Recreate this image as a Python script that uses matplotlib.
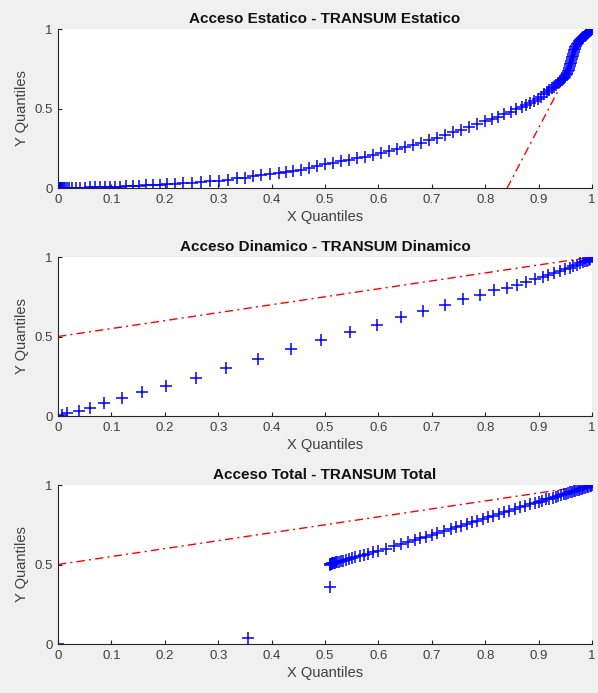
import matplotlib
matplotlib.use('Agg')
import matplotlib.pyplot as plt

plt.rcParams['font.family'] = ['Liberation Sans', 'DejaVu Sans']

# Q-Q datos
titles = ['Acceso Estatico - TRANSUM Estatico',
          'Acceso Dinamico - TRANSUM Dinamico',
          'Acceso Total - TRANSUM Total']

x_est = [0, 0.001, 0.002, 0.003, 0.004, 0.005, 0.006, 0.008, 0.010, 0.012, 0.014, 0.017, 0.020,
         0.026, 0.033, 0.041, 0.050, 0.060, 0.069, 0.079, 0.088, 0.097, 0.106, 0.116, 0.128,
         0.140, 0.152, 0.165, 0.178, 0.191, 0.205, 0.219, 0.234, 0.250, 0.267, 0.285, 0.302,
         0.319, 0.335, 0.350, 0.366, 0.381, 0.397, 0.413, 0.427, 0.440, 0.455, 0.470, 0.485,
         0.500, 0.515, 0.530, 0.545, 0.560, 0.575, 0.590, 0.605, 0.620, 0.635, 0.650, 0.665,
         0.680, 0.695, 0.710, 0.725, 0.740, 0.755, 0.770, 0.785, 0.800, 0.812, 0.824, 0.836,
         0.848, 0.858, 0.868, 0.876, 0.884, 0.891, 0.898, 0.904, 0.910, 0.915, 0.920, 0.925,
         0.929, 0.933, 0.937, 0.940, 0.943, 0.946, 0.948, 0.950, 0.952, 0.953, 0.954, 0.955,
         0.956, 0.957, 0.958, 0.959, 0.960, 0.961, 0.962, 0.963, 0.964, 0.965, 0.966, 0.967,
         0.968, 0.969, 0.970, 0.972, 0.974, 0.976, 0.978, 0.980, 0.982,
         0.984, 0.986, 0.988, 0.990, 0.992, 0.994, 0.996, 0.998, 1.000]
y_est = [0, 0, 0, 0, 0, 0, 0, 0.001, 0.001, 0.001, 0.001, 0.001, 0.001,
         0.002, 0.002, 0.003, 0.003, 0.004, 0.005, 0.005, 0.006, 0.007, 0.008, 0.009, 0.011,
         0.013, 0.015, 0.017, 0.019, 0.021, 0.023, 0.026, 0.030, 0.034, 0.038, 0.042, 0.046,
         0.053, 0.060, 0.066, 0.073, 0.080, 0.087, 0.093, 0.100, 0.106, 0.114, 0.125, 0.137,
         0.148, 0.158, 0.168, 0.178, 0.188, 0.198, 0.208, 0.219, 0.233, 0.246, 0.259, 0.272,
         0.285, 0.299, 0.315, 0.332, 0.350, 0.367, 0.385, 0.402, 0.420, 0.434, 0.449, 0.463,
         0.478, 0.494, 0.510, 0.524, 0.537, 0.550, 0.562, 0.575, 0.590, 0.602, 0.615, 0.627,
         0.637, 0.649, 0.661, 0.670, 0.679, 0.688, 0.694, 0.700, 0.710, 0.718, 0.726, 0.735,
         0.745, 0.756, 0.767, 0.778, 0.789, 0.800, 0.811, 0.822, 0.833, 0.844, 0.855, 0.865,
         0.875, 0.885, 0.895, 0.908, 0.915, 0.922, 0.929, 0.936, 0.942,
         0.949, 0.956, 0.963, 0.970, 0.976, 0.982, 0.988, 0.994, 1.000]

x_din = [0, 0.007, 0.016, 0.039, 0.060, 0.087, 0.120, 0.157, 0.202, 0.258, 0.315, 0.374, 0.436,
         0.492, 0.546, 0.597, 0.642, 0.684, 0.725, 0.759, 0.790, 0.816, 0.840, 0.860, 0.876,
         0.894, 0.908, 0.918, 0.929, 0.940, 0.949, 0.958, 0.965, 0.972, 0.978, 0.983, 0.987,
         0.991, 0.994, 0.997, 1.000]
y_din = [0, 0.005, 0.017, 0.031, 0.052, 0.080, 0.111, 0.149, 0.191, 0.241, 0.304, 0.358, 0.419,
         0.478, 0.530, 0.572, 0.621, 0.662, 0.698, 0.734, 0.761, 0.792, 0.807, 0.824, 0.845,
         0.860, 0.872, 0.887, 0.901, 0.914, 0.923, 0.933, 0.943, 0.952, 0.960, 0.966, 0.972,
         0.978, 0.984, 0.990, 1.000]

x_tot = [0, 0.356, 0.509, 0.509, 0.510, 0.511, 0.512, 0.513, 0.514, 0.515, 0.517, 0.519, 0.521,
         0.523, 0.526, 0.530, 0.534, 0.539, 0.545, 0.551, 0.557, 0.565, 0.573, 0.581, 0.590,
         0.600, 0.615, 0.630, 0.642, 0.655, 0.668, 0.678, 0.690, 0.700, 0.710, 0.722, 0.735,
         0.745, 0.755, 0.765, 0.775, 0.785, 0.795, 0.805, 0.815, 0.825, 0.835, 0.845, 0.855,
         0.865, 0.875, 0.884, 0.893, 0.900, 0.907, 0.914, 0.920, 0.926, 0.932, 0.937, 0.942,
         0.947, 0.951, 0.955, 0.959, 0.963, 0.966, 0.969, 0.972, 0.975, 0.978, 0.981, 0.984,
         0.987, 0.990, 0.993, 0.996, 0.998, 1.000]
y_tot = [0, 0.036, 0.357, 0.500, 0.502, 0.503, 0.505, 0.506, 0.507, 0.508, 0.510, 0.512, 0.514,
         0.516, 0.518, 0.521, 0.525, 0.529, 0.534, 0.539, 0.545, 0.552, 0.559, 0.567, 0.576,
         0.586, 0.600, 0.614, 0.626, 0.640, 0.653, 0.664, 0.676, 0.686, 0.697, 0.709, 0.722,
         0.733, 0.744, 0.754, 0.765, 0.776, 0.786, 0.797, 0.807, 0.818, 0.828, 0.839, 0.849,
         0.860, 0.870, 0.879, 0.888, 0.895, 0.902, 0.909, 0.915, 0.921, 0.927, 0.932, 0.937,
         0.942, 0.946, 0.950, 0.954, 0.958, 0.961, 0.964, 0.967, 0.970, 0.973, 0.976, 0.979,
         0.982, 0.985, 0.988, 0.992, 0.996, 1.000]

# lineas de referencia (extremos)
ref_x = [[0.841, 0.944], [0, 1], [0, 1]]
ref_y = [[0, 0.66], [0.5, 1.0], [0.5, 1.0]]

xs = [x_est, x_din, x_tot]
ys = [y_est, y_din, y_tot]
xticks = [0, 0.1, 0.2, 0.3, 0.4, 0.5, 0.6, 0.7, 0.8, 0.9, 1]
xticklabels = ['0', '0.1', '0.2', '0.3', '0.4', '0.5', '0.6', '0.7', '0.8', '0.9', '1']
yticks = [0, 0.5, 1]
yticklabels = ['0', '0.5', '1']

fig = plt.figure(figsize=(5.98, 6.93), dpi=100, facecolor='#f0f0f0')
bottoms = [0.7287, 0.3997, 0.0707]
txt = '#404040'

for i in range(3):
    ax = fig.add_axes([0.097, bottoms[i], 0.893, 0.2294])
    ax.plot(ref_x[i], ref_y[i], color='red', lw=1, linestyle=(0, (6, 3, 1.5, 3)))
    ax.plot(xs[i], ys[i], '+', color='blue', markersize=8.5, markeredgewidth=1.1)
    ax.set_xlim(0, 1)
    ax.set_ylim(0, 1)
    ax.set_xticks(xticks)
    ax.set_xticklabels(xticklabels)
    ax.set_yticks(yticks)
    ax.set_yticklabels(yticklabels)
    ax.spines['top'].set_visible(False)
    ax.spines['right'].set_visible(False)
    for s in ['left', 'bottom']:
        ax.spines[s].set_color('#262626')
        ax.spines[s].set_linewidth(0.8)
    ax.tick_params(direction='in', length=3, width=0.8, colors='#262626',
                   labelcolor=txt, labelsize=9.5, pad=4)
    ax.set_title(titles[i], fontsize=11, fontweight='bold', color='#111111', pad=4)
    ax.set_xlabel('X Quantiles', fontsize=10.5, color=txt, labelpad=3)
    ax.set_ylabel('Y Quantiles', fontsize=10.5, color=txt, labelpad=4)

plt.savefig('out.png', dpi=100, facecolor=fig.get_facecolor())
